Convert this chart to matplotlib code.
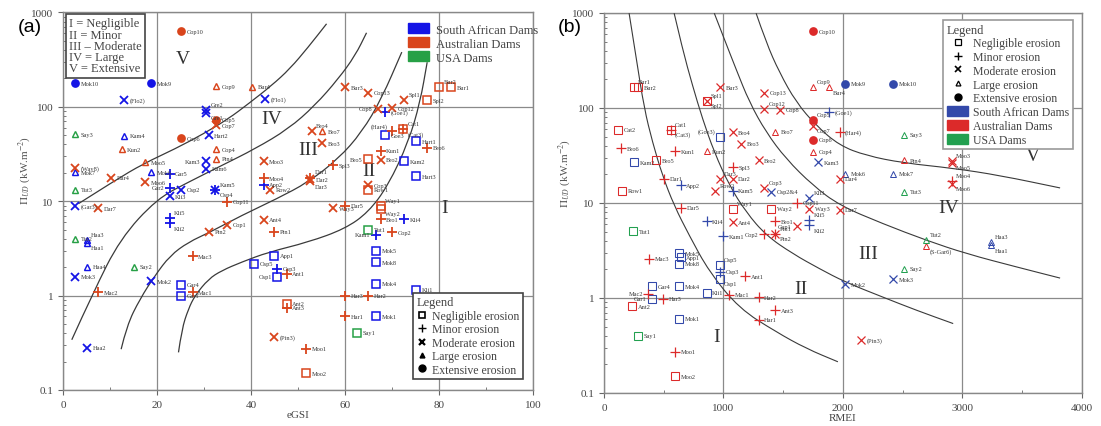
import matplotlib
matplotlib.use("Agg")
import matplotlib.pyplot as plt
from matplotlib.lines import Line2D
from matplotlib.patches import Patch, PathPatch
from matplotlib.path import Path
from matplotlib.ticker import FixedLocator, MultipleLocator

plt.rcParams["font.family"] = ["Liberation Serif", "DejaVu Serif"]
plt.rcParams["mathtext.fontset"] = "stix"

# ---------------- panel (a): eGSI vs unit stream power ----------------
# (name, eGSI, Pi_UD, erosion class)   N/Mi/Mo/L/E = negligible .. extensive
a_south_africa = [
    ("Mok10", 2.5, 177, "E"), ("Mok9", 18.6, 177, "E"), ("(Flo1)", 42.9, 120, "Mo"),
    ("(Flo2)", 13.0, 119, "Mo"), ("Gre2", 30.4, 92, "Mo"), ("Gre1", 30.4, 86, "Mo"),
    ("Hart2", 30.9, 49.7, "Mo"), ("Kam4", 13.0, 49.3, "L"), ("Kam3", 30.4, 26.5, "Mo"),
    ("Kam6", 30.4, 22.0, "Mo"), ("Mok7", 2.5, 20.3, "L"), ("Mok6", 18.6, 20.3, "L"),
    ("Gar5", 22.6, 19.5, "Mi"), ("Gar2", 22.6, 13.8, "Mi"), ("Osp2", 25.0, 13.2, "Mo"),
    ("Kli3", 22.6, 11.3, "Mo"), ("Kam5", 32.3, 13.2, "Mo"), ("Osp4", 32.3, 13.2, "Mi"),
    ("(Gar3)", 2.5, 8.85, "Mo"), ("Kli5", 22.6, 6.6, "Mi"), ("Kli2", 22.6, 5.85, "Mi"),
    ("Haa3", 5.0, 3.92, "L"), ("Haa1", 5.0, 3.62, "L"), ("App1", 44.9, 2.65, "N"),
    ("Osp5", 40.6, 2.17, "N"), ("Osp3", 45.5, 1.92, "Mi"), ("Osp1", 45.5, 1.59, "N"),
    ("Haa4", 5.0, 2.03, "L"), ("Mok3", 2.5, 1.59, "Mo"), ("Mok2", 18.6, 1.41, "Mo"),
    ("Gar4", 25.0, 1.30, "N"), ("Gar1", 25.0, 1.0, "N"), ("Haa2", 5.0, 0.279, "Mo"),
    ("App2", 42.6, 14.9, "Mi"), ("(Goe1)", 68.4, 87.8, "Mi"), ("Goe3", 68.4, 49.7, "N"),
    ("Hart1", 75.0, 43.3, "N"), ("Kam2", 72.5, 26.5, "N"), ("Hart3", 75.0, 18.3, "N"),
    ("Kli4", 72.5, 6.4, "Mi"), ("Kam1", 66.5, 4.4, "Mi"), ("Mok5", 66.5, 3.0, "N"),
    ("Mok8", 66.5, 2.26, "N"), ("Mok4", 66.5, 1.33, "N"), ("Kli1", 75.0, 1.15, "N"),
    ("Mok1", 66.5, 0.604, "N"),
]
a_australia = [
    ("Cop10", 25.0, 630, "E"), ("Cop9", 32.5, 165, "L"), ("Bur4", 40.1, 163, "L"),
    ("Cop5", 32.5, 73, "E"), ("Cop7", 32.5, 64, "Mo"), ("Cop6", 25.0, 46.5, "E"),
    ("Kun2", 12.4, 35.3, "L"), ("Cop4", 32.5, 35.3, "L"), ("Pin4", 32.5, 28.3, "L"),
    ("(Way8)", 2.5, 22.4, "Mo"), ("Moo5", 17.4, 25.9, "L"), ("Dar4", 10.1, 17.7, "Mo"),
    ("Moo6", 17.4, 15.9, "Mo"), ("Dar7", 7.4, 8.43, "Mo"), ("Cop11", 34.9, 9.9, "Mi"),
    ("Ant4", 42.6, 6.34, "Mo"), ("Cop1", 34.9, 5.61, "Mo"), ("Pin2", 31.0, 4.77, "Mo"),
    ("Pin1", 44.9, 4.77, "Mi"), ("Mac3", 27.5, 2.61, "Mi"), ("Ant1", 47.5, 1.70, "Mi"),
    ("Mac2", 7.4, 1.08, "Mi"), ("Mac1", 27.5, 1.08, "Mi"), ("Ant2", 47.5, 0.816, "N"),
    ("Ant3", 47.5, 0.74, "Mi"), ("(Pin3)", 44.9, 0.361, "Mo"), ("Moo1", 51.6, 0.272, "Mi"),
    ("Moo2", 51.6, 0.151, "N"), ("Moo3", 42.6, 26.5, "Mo"), ("Moo4", 42.6, 17.5, "Mi"),
    ("Row2", 44.0, 13.2, "Mo"), ("Bur3", 59.9, 161, "Mo"), ("Cop13", 64.9, 141, "Mo"),
    ("Spl1", 72.5, 119, "Mo"), ("Spl2", 77.4, 117, "N"), ("Cop8", 67.0, 95, "Mo"),
    ("Cop12", 69.9, 97, "Mo"), ("Bur2", 80.0, 161, "N"), ("Bur1", 82.5, 161, "N"),
    ("Bro4", 52.8, 54.8, "Mo"), ("Bro7", 55.0, 54.8, "L"), ("Bro3", 55.0, 41.2, "Mo"),
    ("(Har4)", 69.9, 55, "Mi"), ("Cat1", 72.3, 58.5, "N"), ("(Cat3)", 72.3, 58.5, "Mi"),
    ("Bro6", 77.4, 36.8, "Mi"), ("Kun1", 67.5, 34.4, "Mi"), ("Bro5", 64.9, 27.7, "N"),
    ("Bro2", 67.5, 27.5, "Mo"), ("Spl3", 57.4, 23.9, "Mi"), ("Dar1", 52.5, 17.8, "Mi"),
    ("Dar2", 52.5, 17.0, "Mo"), ("Dar3", 52.5, 16.3, "Mo"), ("Cop3", 64.9, 14.7, "Mo"),
    ("Row1", 64.9, 13.2, "N"), ("Dar5", 60.0, 9.0, "Mi"), ("Way3", 57.4, 8.4, "Mo"),
    ("Way1", 67.5, 8.9, "N"), ("Way2", 67.5, 8.3, "N"), ("Bro1", 67.5, 6.4, "Mi"),
    ("Cop2", 70.0, 4.69, "Mi"), ("Har3", 60.0, 1.0, "Mi"), ("Har2", 64.9, 1.0, "Mi"),
    ("Har1", 60.0, 0.604, "Mi"),
]
a_usa = [
    ("Say3", 2.5, 51, "L"), ("Tut3", 2.5, 13.2, "L"), ("Tut2", 2.5, 3.99, "L"),
    ("Say2", 15.0, 2.03, "L"), ("Tut1", 64.9, 4.97, "N"), ("Say1", 62.4, 0.402, "N"),
]

# erosion class boundaries, panel (a)
a_curve1_x = [3.2, 11.0, 17.0, 23.8, 29.8, 35.1, 39.4, 44.3, 48.2, 52.1, 56.0]
a_curve1_y = [9.4, 16.6, 24.9, 35.9, 51.7, 74.6, 108, 168, 253, 429, 758]
a_curve2_x = [1.8, 6.4, 12.1, 19.9, 26.6, 33.7, 40.8, 47.9, 53.5, 58.5, 62.1, 64.5]
a_curve2_y = [0.34, 1.09, 3.99, 10.6, 15.9, 23.9, 35.9, 58.4, 103, 198, 350, 609]
a_curve3_x = [12.3, 13.5, 16.3, 19.5, 22.7, 26.6, 31.2, 37.9, 45.4, 52.1, 58.5, 63.5, 67.7, 72.0]
a_curve3_y = [0.27, 0.48, 0.92, 1.63, 2.65, 3.68, 4.69, 7.05, 10.6, 15.9, 28.1, 53.9, 122, 380]
a_curve4_x = [24.5, 25.2, 26.6, 28.0, 30.9, 33.7, 37.9, 43.6, 52.1, 59.9, 64.9, 69.1, 73.4, 75.9, 77.4]
a_curve4_y = [0.25, 0.44, 0.72, 1.0, 1.5, 1.84, 2.26, 2.88, 3.68, 5.09, 7.65, 14.7, 42.2, 112, 297]

a_regions = ["V", "IV", "III", "II", "I"]
a_region_x = [25.5, 44.3, 52.1, 65.0, 81.2]
a_region_y = [328, 76, 35, 21, 8.5]

# ---------------- panel (b): RMEI vs unit stream power ----------------
b_south_africa = [
    ("Mok9", 2019, 180, "E"), ("Mok10", 2419, 180, "E"), ("(Goe1)", 1882, 90, "Mi"),
    ("(Goe3)", 971, 50, "N"), ("Kam2", 252, 26.9, "N"), ("Kam3", 1790, 26.9, "Mo"),
    ("Mok6", 2019, 20.2, "L"), ("Mok7", 2419, 20.2, "L"), ("App2", 643, 15.3, "Mi"),
    ("Kam5", 1077, 13.5, "Mi"), ("Osp2&4", 1398, 13.2, "Mo"), ("Kli3", 1720, 11.3, "Mo"),
    ("Kli4", 859, 6.44, "Mi"), ("Kli5", 1720, 6.55, "Mi"), ("Kli2", 1720, 5.8, "Mi"),
    ("Kam1", 999, 4.48, "Mi"), ("Mok5", 629, 2.97, "N"), ("App1", 643, 2.70, "N"),
    ("Mok8", 629, 2.30, "N"), ("Osp5", 971, 2.20, "N"), ("Osp3", 971, 1.88, "Mi"),
    ("Osp1", 971, 1.60, "N"), ("Gar4", 400, 1.33, "N"), ("Mok4", 629, 1.33, "N"),
    ("Kli1", 859, 1.14, "N"), ("Gar1", 400, 0.98, "N"), ("Mok1", 629, 0.607, "N"),
    ("Mok2", 2019, 1.39, "Mo"), ("Mok3", 2419, 1.57, "Mo"), ("Haa3", 3239, 3.88, "L"),
    ("Haa1", 3239, 3.58, "L"),
]
b_australia = [
    ("Cop10", 1748, 639, "E"), ("Bur1", 252, 165, "N"), ("Bur2", 288, 165, "N"),
    ("Bur3", 971, 165, "Mo"), ("Spl1", 859, 119, "Mo"), ("Spl2", 859, 119, "N"),
    ("Cop9", 1748, 168, "L"), ("Bur4", 1882, 165, "L"), ("Cop13", 1343, 144, "Mo"),
    ("Cop12", 1343, 97.6, "Mo"), ("Cop8", 1477, 95.3, "Mo"), ("Cop5", 1748, 75.4, "E"),
    ("Cop7", 1748, 65.2, "Mo"), ("Cat2", 120, 59.2, "N"), ("Cat1", 559, 59.2, "N"),
    ("(Cat3)", 559, 59.2, "Mi"), ("Bro4", 1077, 55.5, "Mo"), ("Bro7", 1435, 56.4, "L"),
    ("(Har4)", 1972, 55.5, "Mi"), ("Cop6", 1748, 46.5, "E"), ("Bro3", 1147, 41.8, "Mo"),
    ("Bro6", 140, 37.7, "Mi"), ("Kun1", 596, 35.1, "Mi"), ("Kun2", 859, 35.1, "L"),
    ("Cop4", 1748, 34.8, "L"), ("Bro5", 434, 28, "N"), ("Spl3", 1077, 23.8, "Mi"),
    ("Bro2", 1295, 28, "Mo"), ("Pin4", 2512, 28, "L"), ("Moo3", 2914, 27.5, "Mo"),
    ("Moo5", 2914, 26.3, "Mo"), ("Dar4", 1972, 17.9, "Mo"), ("Moo4", 2914, 17.2, "Mi"),
    ("Moo6", 2914, 16.0, "Mo"), ("Dar1", 503, 17.9, "Mi"), ("Dar3", 971, 17.9, "Mo"),
    ("Dar2", 1077, 17.9, "Mo"), ("Row1", 154, 13.5, "N"), ("Row2", 931, 13.3, "Mo"),
    ("Cop3", 1343, 14.3, "Mo"), ("Cop11", 1614, 10.0, "Mi"), ("Dar5", 643, 8.9, "Mi"),
    ("Way1", 1077, 8.7, "N"), ("Way2", 1398, 8.7, "N"), ("Way3", 1720, 8.7, "Mo"),
    ("Dar7", 1972, 8.5, "Mo"), ("Ant4", 1077, 6.29, "Mo"), ("Bro1", 1435, 6.4, "Mi"),
    ("Cop1", 1614, 5.7, "Mo"), ("Pin1", 1435, 4.74, "Mi"), ("Pin2", 1435, 4.74, "Mo"),
    ("Cop2", 1337, 4.67, "Mi"), ("Mac3", 378, 2.59, "Mi"), ("Ant1", 1180, 1.69, "Mi"),
    ("Mac2", 372, 1.11, "Mi"), ("Har3", 498, 0.98, "Mi"), ("Mac1", 1049, 1.08, "Mi"),
    ("Har2", 1295, 1.02, "Mi"), ("Ant2", 238, 0.817, "N"), ("Ant3", 1435, 0.742, "Mi"),
    ("Har1", 1295, 0.592, "Mi"), ("Moo1", 596, 0.271, "Mi"), ("Moo2", 596, 0.150, "N"),
    ("(Pin3)", 2154, 0.359, "Mo"), ("(S-Gar6)", 2694, 3.52, "L"),
]
b_usa = [
    ("Say3", 2512, 52, "L"), ("Tut3", 2512, 13.2, "L"), ("Tut1", 246, 5.02, "N"),
    ("Say1", 285, 0.399, "N"), ("Say2", 2512, 2.03, "L"), ("Tut2", 2694, 4.10, "L"),
]

b_curve1_x = [210, 271, 336, 406, 489, 587, 713, 881, 1133, 1440, 1692, 1958]
b_curve1_y = [995, 327, 99.8, 43.6, 19.5, 9.4, 4.56, 1.88, 0.773, 0.44, 0.294, 0.213]
b_curve2_x = [587, 657, 741, 825, 923, 1049, 1189, 1357, 1580, 1804, 2019, 2335, 2615, 2923]
b_curve2_y = [995, 417, 172, 76.6, 34.2, 15.3, 8.01, 4.55, 2.92, 2.03, 1.47, 1.02, 0.742, 0.538]
b_curve3_x = [923, 1007, 1105, 1217, 1357, 1524, 1748, 1972, 2335, 2699, 3035, 3454, 3818]
b_curve3_y = [995, 531, 257, 115, 55.5, 29.1, 15.3, 9.42, 6.04, 4.04, 2.92, 2.12, 1.62]
b_curve4_x = [1273, 1357, 1468, 1608, 1776, 1972, 2196, 2503, 2923, 3314, 3818]
b_curve4_y = [995, 490, 237, 115, 65.2, 40.2, 31.5, 26.4, 23.2, 19.5, 14.4]

b_regions = ["I", "II", "III", "IV", "V"]
b_region_x = [943, 1650, 2210, 2887, 3586]
b_region_y = [0.395, 1.25, 2.92, 8.9, 31.6]

erosion_names = ["Negligible erosion", "Minor erosion", "Moderate erosion",
                 "Large erosion", "Extensive erosion"]
dam_names = ["South African Dams", "Australian Dams", "USA Dams"]

# where a point label sits relative to its marker
a_label_side = {"Kam3": "l", "Osp1": "l", "Kam1": "l", "Cop8": "l", "(Har4)": "ul",
                "Bro5": "l", "Gar2": "l", "Kam5": "u", "Osp4": "d", "Cat1": "u",
                "(Cat3)": "d", "Bur2": "u", "Gre2": "u", "Gre1": "d", "Dar1": "u",
                "Dar3": "d", "Way1": "u", "Way2": "d", "Kli5": "u", "Kli2": "d",
                "Haa3": "u", "Haa1": "d", "Spl1": "u", "Bro4": "u"}
b_label_side = {"Bur1": "u", "Spl1": "u", "Spl2": "d", "Cop9": "u", "Bur4": "d",
                "Cop12": "u", "Cat1": "u", "(Cat3)": "d", "(Goe3)": "ul", "Moo3": "u",
                "Moo5": "d", "Moo4": "u", "Moo6": "d", "Dar3": "u", "Row2": "u",
                "Cop3": "u", "Kli3": "u", "Way1": "u", "Cop1": "l", "Kli5": "u",
                "Kli2": "d", "Pin1": "u", "Pin2": "d", "Cop2": "l", "Mac2": "l",
                "Gar1": "l", "Haa3": "u", "Haa1": "d", "Tut2": "u", "(S-Gar6)": "d",
                "Osp5": "u", "Osp1": "d", "Cop5": "u", "Cop7": "d"}

SIDES = {"r": ((4, 0), "left"), "l": ((-4, 0), "right"), "u": ((3, 4), "left"),
         "d": ((3, -3.5), "left"), "ul": ((-3, 4), "right")}


def marker_style(cls, color, thin):
    w = 0.9 if thin else 1.3
    if cls == "N":
        return dict(marker="s", mfc="none", mec=color, ms=5.2, mew=w * 0.85)
    if cls == "Mi":
        return dict(marker="+", mec=color, ms=6.5, mew=w)
    if cls == "Mo":
        return dict(marker="x", mec=color, ms=5.2, mew=w)
    if cls == "L":
        return dict(marker="^", mfc="none", mec=color, ms=4.3, mew=w * 0.8)
    return dict(marker="o", mfc=color, mec=color, ms=6.3, mew=0)


def draw_points(ax, records, color, sides, thin):
    for name, x, y, cls in records:
        ax.plot([x], [y], ls="none", zorder=4, **marker_style(cls, color, thin))
        off, ha = SIDES[sides.get(name, "r")]
        ax.annotate(name, (x, y), xytext=off, textcoords="offset points",
                    fontsize=4.6, ha=ha, va="center", color="#3a3a3a", zorder=5)


def draw_boundary(ax, xs, ys, lw):
    # smooth curve through the read points (quadratic segments, midpoints taken on the log axis)
    verts = [(xs[0], ys[0])]
    codes = [Path.MOVETO]
    for i in range(1, len(xs) - 1):
        mx = (xs[i] + xs[i + 1]) / 2
        my = (ys[i] * ys[i + 1]) ** 0.5
        verts += [(xs[i], ys[i]), (mx, my)]
        codes += [Path.CURVE3, Path.CURVE3]
    verts.append((xs[-1], ys[-1]))
    codes.append(Path.LINETO)
    ax.add_patch(PathPatch(Path(verts, codes), fill=False, ec="#3a3a3a", lw=lw, zorder=3))


def style_axes(ax, xmax, xmajor, xminor):
    ax.set_yscale("log")
    ax.set_xlim(0, xmax)
    ax.set_ylim(0.1, 1000)
    ax.xaxis.set_major_locator(MultipleLocator(xmajor))
    ax.xaxis.set_minor_locator(MultipleLocator(xminor))
    ax.yaxis.set_major_locator(FixedLocator([0.1, 1, 10, 100, 1000]))
    ax.set_yticklabels(["0.1", "1", "10", "100", "1000"])
    ax.grid(True, which="major", color="#8a8a8a", lw=0.9)
    ax.tick_params(which="major", direction="out", length=3.5, color="#666",
                   labelsize=8, labelcolor="#444")
    ax.tick_params(which="minor", direction="in", length=2.5, color="#666")
    for sp in ax.spines.values():
        sp.set_color("#888")
        sp.set_linewidth(1.0)
    ax.set_ylabel(r"$\Pi_{UD}$ (kW.m$^{-2}$)", fontsize=8, color="#555")


fig = plt.figure(figsize=(11.01, 4.27), dpi=100)
ax1 = fig.add_axes([0.0575, 0.0845, 0.427, 0.884])
ax2 = fig.add_axes([0.5486, 0.0773, 0.434, 0.890])

# ---- panel (a)
a_colors = ["#1414e6", "#d9451c", "#27a046"]
style_axes(ax1, 100, 20, 10)
ax1.set_xlabel("eGSI", fontsize=8, color="#444", labelpad=1)
ax1.yaxis.set_label_coords(-0.064, 0.585)
for cx, cy in [(a_curve1_x, a_curve1_y), (a_curve2_x, a_curve2_y),
               (a_curve3_x, a_curve3_y), (a_curve4_x, a_curve4_y)]:
    draw_boundary(ax1, cx, cy, 0.9)
draw_points(ax1, a_south_africa, a_colors[0], a_label_side, False)
draw_points(ax1, a_australia, a_colors[1], a_label_side, False)
draw_points(ax1, a_usa, a_colors[2], a_label_side, False)
for t, x, y in zip(a_regions, a_region_x, a_region_y):
    ax1.text(x, y, t, fontsize=14, ha="center", va="center", color="#333")

ax1.text(0.012, 0.987, "I = Negligible\nII = Minor\nIII \u2013 Moderate\nIV = Large\nV = Extensive",
         transform=ax1.transAxes, ha="left", va="top", fontsize=9, linespacing=0.92,
         color="#444", zorder=6,
         bbox=dict(boxstyle="square,pad=0.25", fc="white", ec="#444", lw=1.2))

patch_a = [Patch(fc=c, ec=c) for c in a_colors]
leg_c = ax1.legend(patch_a, dam_names, loc="upper left", bbox_to_anchor=(0.715, 0.995),
                   frameon=False, fontsize=9, handlelength=1.7, handleheight=0.9,
                   labelspacing=0.12, handletextpad=0.5, borderpad=0.2)
for txt in leg_c.get_texts():
    txt.set_color("#444")
ax1.add_artist(leg_c)

shape_handles = [
    Line2D([], [], ls="none", marker="s", mfc="none", mec="k", ms=4.5, mew=1.2),
    Line2D([], [], ls="none", marker="+", mec="k", ms=6, mew=1.0),
    Line2D([], [], ls="none", marker="x", mec="k", ms=4.5, mew=1.6),
    Line2D([], [], ls="none", marker="^", mfc="k", mec="k", ms=3.5),
    Line2D([], [], ls="none", marker="o", mfc="k", mec="k", ms=5),
]
leg_m = ax1.legend(shape_handles, erosion_names, title="Legend", loc="lower right",
                   bbox_to_anchor=(0.99, 0.013), fontsize=8.5, title_fontsize=9,
                   alignment="left", fancybox=False, edgecolor="#444", framealpha=1,
                   labelspacing=0.12, handletextpad=0.3, handlelength=1.0, borderpad=0.3)
leg_m.get_frame().set_linewidth(1.2)
for txt in leg_m.get_texts():
    txt.set_color("#444")
leg_m.get_title().set_color("#444")

# ---- panel (b)
b_colors = ["#3349aa", "#dc2a2a", "#22a050"]
style_axes(ax2, 4000, 1000, 500)
ax2.set_xlabel("RMEI", fontsize=8, color="#444", labelpad=1)
ax2.yaxis.set_label_coords(-0.065, 0.58)
for cx, cy in [(b_curve1_x, b_curve1_y), (b_curve2_x, b_curve2_y),
               (b_curve3_x, b_curve3_y), (b_curve4_x, b_curve4_y)]:
    draw_boundary(ax2, cx, cy, 0.8)
draw_points(ax2, b_south_africa, b_colors[0], b_label_side, True)
draw_points(ax2, b_australia, b_colors[1], b_label_side, True)
draw_points(ax2, b_usa, b_colors[2], b_label_side, True)
for t, x, y in zip(b_regions, b_region_x, b_region_y):
    ax2.text(x, y, t, fontsize=14, ha="center", va="center", color="#333")

b_handles = [
    Line2D([], [], ls="none", marker="s", mfc="none", mec="k", ms=4.5, mew=0.9),
    Line2D([], [], ls="none", marker="+", mec="k", ms=6, mew=1.0),
    Line2D([], [], ls="none", marker="x", mec="k", ms=4.5, mew=1.2),
    Line2D([], [], ls="none", marker="^", mfc="none", mec="k", ms=3.5, mew=0.9),
    Line2D([], [], ls="none", marker="o", mfc="k", mec="k", ms=5),
] + [Patch(fc=c, ec=c) for c in b_colors]
leg_b = ax2.legend(b_handles, erosion_names + dam_names, title="Legend",
                   loc="upper right", bbox_to_anchor=(0.993, 0.997), fontsize=8.5,
                   title_fontsize=9, alignment="left", fancybox=False, edgecolor="#999",
                   framealpha=1, labelspacing=0.15, handletextpad=0.4, handlelength=1.8,
                   handleheight=0.9, borderpad=0.3)
leg_b.get_frame().set_linewidth(1.2)
for txt in leg_b.get_texts():
    txt.set_color("#444")
leg_b.get_title().set_color("#444")

fig.text(30 / 1101, 1 - 28 / 427, "(a)", fontsize=14, family="Liberation Sans",
         ha="center", va="center")
fig.text(570 / 1101, 1 - 28 / 427, "(b)", fontsize=14, family="Liberation Sans",
         ha="center", va="center")

fig.savefig("out.png", dpi=100)
